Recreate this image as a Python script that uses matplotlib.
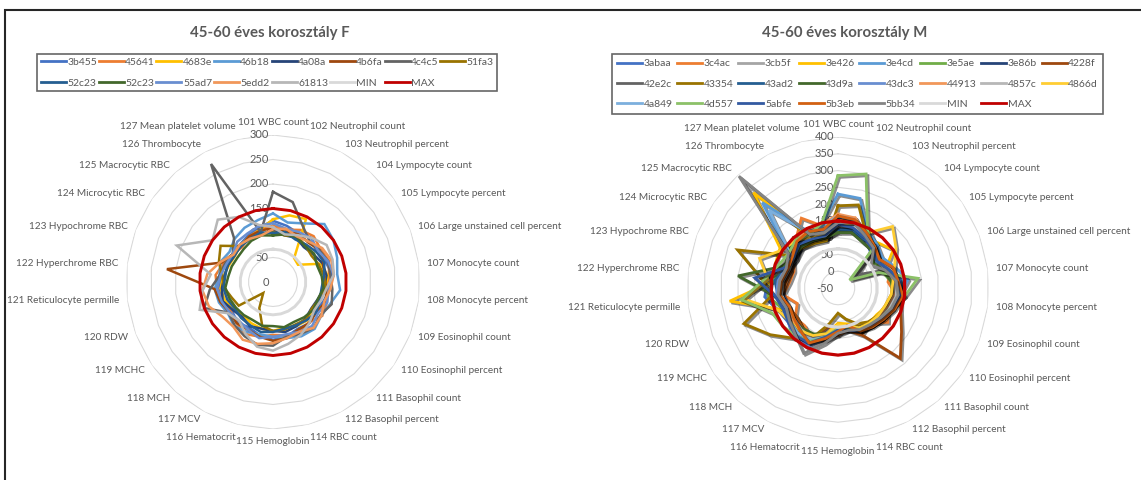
import numpy as np
import matplotlib
matplotlib.use('Agg')
import matplotlib.pyplot as plt
import matplotlib.patheffects as pe
from matplotlib.patches import Rectangle

plt.rcParams['font.family'] = ['Lato', 'DejaVu Sans']

# ===== lab parameters (axis order of the radar)
categories = ['101 WBC count', '102 Neutrophil count', '103 Neutrophil percent',
              '104 Lympocyte count', '105 Lympocyte percent',
              '106 Large unstained cell percent', '107 Monocyte count',
              '108 Monocyte percent', '109 Eosinophil count',
              '110 Eosinophil percent', '111 Basophil count',
              '112 Basophil percent', '114 RBC count', '115 Hemoglobin',
              '116 Hematocrit', '117 MCV', '118 MCH', '119 MCHC', '120 RDW',
              '121 Reticulocyte permille', '122 Hyperchrome RBC',
              '123 Hypochrome RBC', '124 Microcytic RBC', '125 Macrocytic RBC',
              '126 Thrombocyte', '127 Mean platelet volume']

# ===== women, 45-60
f_names = ['3b455', '45641', '4683e', '46b18', '4a08a', '4b6fa', '4c4c5',
           '51fa3', '52c23', '52c23', '55ad7', '5edd2', '61813']
f_colors = ['#4472C4', '#ED7D31', '#FFC000', '#5B9BD5', '#264478', '#9E480E',
            '#636363', '#997300', '#255E91', '#43682B', '#698ED0', '#F1975A',
            '#B7B7B7']
f_values = [
    [125, 118, 112, 120, 108, 115, 122, 118, 110, 105, 112, 108, 115, 118, 112, 105, 110, 102, 108, 112, 105, 110, 98, 102, 108, 115],
    [115, 110, 120, 125, 118, 122, 115, 112, 118, 122, 110, 115, 112, 108, 115, 120, 112, 105, 110, 115, 118, 108, 100, 95, 105, 110],
    [128, 140, 145, 65, 62, 105, 112, 108, 100, 98, 105, 102, 96, 100, 98, 95, 92, 98, 105, 108, 102, 96, 94, 100, 104, 110],
    [140, 125, 135, 158, 150, 140, 132, 138, 125, 120, 128, 125, 118, 112, 110, 115, 120, 112, 118, 120, 110, 115, 108, 118, 125, 130],
    [105, 98, 102, 95, 100, 108, 110, 105, 98, 95, 100, 102, 105, 100, 98, 102, 95, 100, 110, 105, 100, 98, 95, 100, 102, 100],
    [110, 105, 112, 108, 115, 110, 105, 110, 115, 108, 112, 110, 118, 120, 115, 110, 112, 108, 115, 120, 218, 112, 100, 98, 105, 108],
    [184, 168, 130, 112, 115, 120, 118, 122, 128, 118, 125, 120, 115, 130, 132, 125, 118, 110, 150, 130, 110, 105, 100, 120, 272, 105],
    [102, 98, 105, 100, 95, 100, 105, 108, 100, 96, 102, 98, 100, 100, 92, 60, 30, 85, 90, 100, 105, 118, 130, 98, 100, 102],
    [100, 105, 98, 102, 108, 112, 105, 100, 102, 108, 104, 100, 98, 102, 105, 100, 98, 95, 100, 102, 98, 100, 96, 98, 100, 104],
    [95, 100, 104, 98, 102, 96, 100, 104, 98, 100, 96, 92, 95, 90, 92, 88, 90, 92, 95, 98, 92, 90, 88, 90, 95, 98],
    [120, 112, 115, 118, 112, 120, 125, 115, 118, 112, 120, 115, 110, 112, 118, 110, 105, 108, 112, 115, 108, 102, 100, 110, 112, 118],
    [108, 112, 105, 110, 122, 127, 125, 118, 112, 120, 125, 115, 118, 125, 130, 133, 122, 125, 140, 145, 135, 115, 98, 102, 100, 98],
    [112, 100, 108, 120, 133, 130, 125, 110, 105, 102, 112, 122, 130, 140, 136, 120, 105, 112, 160, 145, 128, 210, 150, 170, 150, 120],
]

# ===== men, 45-60
m_names = ['3abaa', '3c4ac', '3cb5f', '3e426', '3e4cd', '3e5ae', '3e86b',
           '4228f', '42e2c', '43354', '43ad2', '43d9a', '43dc3', '44913',
           '4857c', '4866d', '4a849', '4d557', '5abfe', '5b3eb', '5bb34']
m_colors = ['#4472C4', '#ED7D31', '#A5A5A5', '#FFC000', '#5B9BD5', '#70AD47',
            '#264478', '#9E480E', '#636363', '#997300', '#255E91', '#43682B',
            '#698ED0', '#F1975A', '#B7B7B7', '#FFCD33', '#7CAFDD', '#8CC168',
            '#335AA1', '#D26012', '#848484']
m_values = [
    [160, 135, 120, 95, 85, 100, 135, 150, 120, 105, 95, 80, 70, 60, 95, 140, 150, 130, 140, 170, 160, 120, 110, 150, 120, 130],
    [150, 165, 130, 100, 75, 120, 100, 125, 110, 130, 90, 105, 65, 90, 70, 120, 100, 105, 80, 115, 95, 90, 110, 140, 185, 140],
    [140, 150, 150, 120, 0, 95, 125, 130, 115, 100, 95, 85, 75, 70, 110, 125, 120, 110, 105, 120, 110, 100, 140, 370, 130, 110],
    [145, 120, 110, 130, 150, 100, 110, 140, 105, 90, 90, 80, 60, 55, 90, 115, 110, 100, 130, 275, 140, 150, 160, 330, 115, 100],
    [230, 225, 140, 125, 110, 130, 160, 135, 125, 110, 100, 95, 80, 75, 100, 130, 125, 120, 115, 130, 120, 110, 130, 290, 140, 150],
    [130, 135, 115, 100, 80, 90, 110, 115, 105, 95, 90, 85, 65, 70, 95, 110, 115, 120, 125, 160, 150, 120, 130, 150, 125, 120],
    [120, 125, 110, 105, 95, 120, 130, 145, 120, 110, 100, 90, 75, 70, 95, 110, 115, 110, 105, 115, 120, 105, 100, 110, 105, 100],
    [150, 145, 120, 110, 100, 120, 130, 140, 150, 180, 230, 110, 80, 90, 110, 115, 110, 100, 110, 120, 105, 100, 110, 120, 115, 110],
    [130, 140, 120, 100, 20, 100, 120, 125, 115, 105, 100, 90, 70, 65, 100, 125, 130, 120, 110, 140, 180, 110, 100, 120, 110, 105],
    [195, 205, 130, 110, 90, 100, 115, 110, 100, 95, 85, 70, 45, 25, 60, 120, 150, 195, 250, 150, 180, 270, 120, 110, 100, 95],
    [125, 130, 115, 120, 100, 120, 140, 130, 120, 110, 100, 95, 75, 70, 100, 120, 115, 110, 115, 130, 140, 115, 105, 120, 115, 110],
    [115, 120, 105, 100, 85, 95, 110, 120, 110, 100, 95, 85, 70, 65, 90, 105, 110, 115, 120, 140, 250, 130, 110, 115, 110, 105],
    [150, 145, 125, 110, 95, 115, 130, 125, 115, 105, 95, 90, 75, 80, 105, 150, 145, 130, 120, 135, 130, 115, 110, 130, 120, 125],
    [170, 165, 130, 115, 100, 115, 125, 120, 110, 100, 95, 85, 70, 75, 100, 120, 125, 115, 110, 125, 115, 105, 120, 135, 150, 145],
    [135, 140, 125, 110, 90, 105, 120, 125, 115, 105, 95, 85, 70, 70, 95, 120, 115, 110, 110, 120, 115, 105, 110, 140, 125, 115],
    [140, 150, 135, 195, 160, 130, 115, 110, 100, 95, 90, 85, 65, 60, 90, 110, 120, 125, 140, 230, 160, 200, 150, 140, 120, 110],
    [165, 160, 130, 115, 95, 110, 130, 135, 120, 110, 100, 90, 75, 75, 100, 125, 130, 125, 115, 130, 120, 110, 120, 260, 135, 140],
    [285, 300, 140, 110, -8, 80, 190, 150, 120, 105, 95, 90, 70, 70, 100, 130, 140, 150, 160, 240, 170, 140, 130, 140, 130, 150],
    [140, 135, 120, 105, 90, 110, 135, 140, 125, 110, 100, 95, 80, 75, 100, 135, 140, 130, 125, 140, 200, 120, 110, 125, 115, 110],
    [165, 160, 135, 115, 100, 125, 130, 145, 130, 115, 105, 95, 65, 80, 105, 135, 120, 110, 105, 125, 120, 110, 115, 135, 140, 130],
    [145, 150, 125, 110, 70, 100, 125, 130, 120, 105, 95, 90, 80, 85, 120, 170, 140, 125, 115, 130, 125, 115, 130, 395, 130, 120],
]

# reference limits, same for every parameter
min_value = 67
max_value = 150

text_color = '#595959'
grid_color = '#D9D9D9'


def radar(ax, values, names, colors, rmin, rmax, lw, shadow):
    n = len(categories)
    theta = np.linspace(0, 2 * np.pi, n, endpoint=False)
    theta_c = np.append(theta, theta[0])

    ax.set_theta_zero_location('N')
    ax.set_theta_direction(-1)
    ax.set_ylim(rmin, rmax)
    ax.grid(False)
    ax.set_xticks([])
    ax.set_yticks([])
    ax.spines['polar'].set_visible(False)
    ax.patch.set_alpha(0)

    # spider-web gridlines
    for r in range(rmin + 50, rmax + 1, 50):
        ax.plot(theta_c, [r] * (n + 1), color=grid_color, lw=0.8, zorder=1)

    # radial axis labels
    for r in range(rmin, rmax + 1, 50):
        ax.annotate(str(r), xy=(0, r), xytext=(-3, 0), textcoords='offset points',
                    ha='right', va='center', fontsize=8, color=text_color,
                    zorder=2, annotation_clip=False)

    # category labels round the outer ring
    for th, lab in zip(theta, categories):
        s, c = np.sin(th), np.cos(th)
        ha = 'center' if abs(s) < 0.1 else ('left' if s > 0 else 'right')
        va = 'bottom' if c > 0.95 else ('top' if c < -0.95 else 'center')
        ax.annotate(lab, xy=(th, rmax), xytext=(6 * s, 6 * c),
                    textcoords='offset points', ha=ha, va=va, fontsize=7.2,
                    color=text_color, annotation_clip=False)

    effects = None
    if shadow:
        effects = [pe.SimpleLineShadow(offset=(1.3, -1.3), shadow_color='k',
                                       alpha=0.45), pe.Normal()]

    handles = []
    for vals, name, col in zip(values, names, colors):
        v = list(vals) + [vals[0]]
        h, = ax.plot(theta_c, v, color=col, lw=lw, zorder=3,
                     solid_joinstyle='miter', label=name, path_effects=effects)
        handles.append(h)

    h, = ax.plot(theta_c, [min_value] * (n + 1), color=grid_color, lw=lw + 0.3,
                 zorder=4, label='MIN')
    handles.append(h)
    h, = ax.plot(theta_c, [max_value] * (n + 1), color='#C00000', lw=lw + 0.3,
                 zorder=5, label='MAX')
    handles.append(h)
    return handles


def row_order(handles, ncol):
    # matplotlib fills legend columns first, Excel fills rows
    out = []
    for c in range(ncol):
        out += handles[c::ncol]
    return out


W, H = 1141, 480
fig = plt.figure(figsize=(W / 100, H / 100), dpi=100)

# left radar: centre (273, 282), radius 147 px
cx, cy, rad = 273, 282, 147
ax1 = fig.add_axes([(cx - rad) / W, (H - cy - rad) / H, 2 * rad / W, 2 * rad / H],
                   projection='polar')
h1 = radar(ax1, f_values, f_names, f_colors, 0, 300, 1.8, False)

# right radar: centre (838, 288), radius 151 px
cx, cy, rad = 838, 288, 151
ax2 = fig.add_axes([(cx - rad) / W, (H - cy - rad) / H, 2 * rad / W, 2 * rad / H],
                   projection='polar')
h2 = radar(ax2, m_values, m_names, m_colors, -50, 400, 2.0, True)

for handles, x0, y0, lsp, bpad, csp in [(h1, 37, 54, 1.1, 0.35, 0.15),
                                        (h2, 612, 54, 1.05, 0.5, 0.45)]:
    hs = row_order(handles, 8)
    leg = fig.legend(hs, [h.get_label() for h in hs], ncol=8, loc='upper left',
                     bbox_to_anchor=(x0 / W, 1 - y0 / H), fontsize=7.5,
                     handlelength=2.4, handletextpad=0.15, columnspacing=csp,
                     labelspacing=lsp, borderpad=bpad, borderaxespad=0,
                     fancybox=False, frameon=True)
    leg.get_frame().set_edgecolor('#404040')
    leg.get_frame().set_linewidth(1.2)
    for t in leg.get_texts():
        t.set_color(text_color)
    for ln in leg.get_lines():
        ln.set_linewidth(2.0)
        ln.set_path_effects([])

fig.text(270 / W, 1 - 33 / H, '45-60 éves korosztály F', ha='center', va='center',
         fontsize=10.8, fontweight='bold', color=text_color)
fig.text(845 / W, 1 - 33 / H, '45-60 éves korosztály M', ha='center', va='center',
         fontsize=10.8, fontweight='bold', color=text_color)

# outer frame (top and left edges fall inside the canvas)
fig.add_artist(Rectangle((4.5 / W, -0.05), 1.2, 1.05 - 10 / H,
                         transform=fig.transFigure, fill=False,
                         edgecolor='#262626', lw=1.5, clip_on=False))

fig.savefig('out.png', dpi=100, facecolor='white')
